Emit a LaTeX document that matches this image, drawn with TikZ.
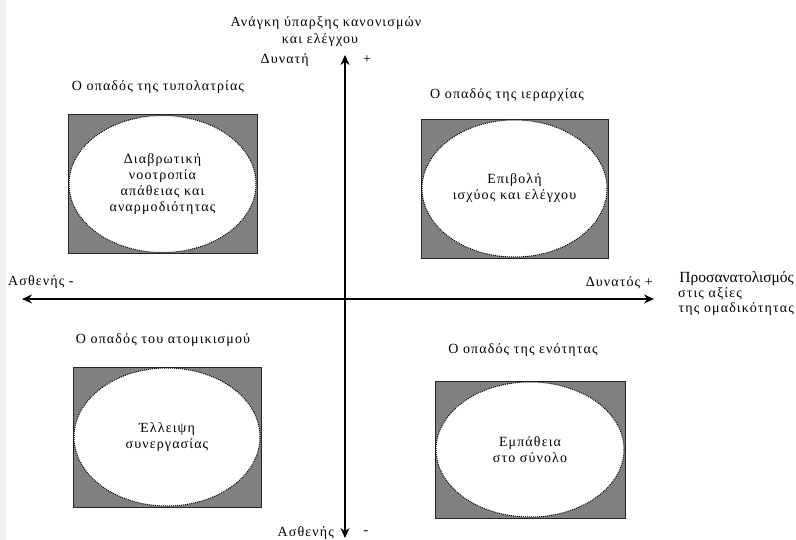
\documentclass[tikz,border=0pt]{standalone}
\usepackage{fontspec}
\setmainfont{Liberation Serif}
\newfontfamily\wideserif[LetterSpace=8]{Liberation Serif}
\usetikzlibrary{arrows.meta,shapes.geometric}
\definecolor{boxgray}{RGB}{128,128,128}
\begin{document}
\begin{tikzpicture}[x=1pt,y=-1pt,
  lbl/.style={font=\wideserif\fontsize{14}{17}\selectfont, inner sep=0pt, align=center},
  biglbl/.style={font=\fontsize{15.5}{17}\selectfont, inner sep=0pt},
  quadbox/.style={draw=black!85, line width=0.9pt, fill=boxgray, inner sep=0pt},
  oval/.style={ellipse, draw=black, densely dotted, line width=1pt, fill=white, inner sep=0pt, align=center, font=\wideserif\fontsize{14}{16}\selectfont},
  axis/.style={line width=1.3pt, -{Stealth[length=10pt,width=9pt]}}
]
\useasboundingbox (0,0) rectangle (796,540);
% faint background marks
\fill[black!6] (0,0) rectangle (6,540);
% axes
\coordinate (c) at (345,299);
\coordinate (top) at (345,55);
\coordinate (bot) at (345,538);
\coordinate (lft) at (22,299);
\coordinate (rgt) at (654,299);
\draw[axis] (c) -- (top);
\draw[axis] (c) -- (bot);
\draw[axis] (c) -- (lft);
\draw[axis] (c) -- (rgt);
% axis labels
\node[lbl] (vlab1) at (326,23) {Ανάγκη ύπαρξης κανονισμών};
\node[lbl] (vlab2) at (320,40) {και ελέγχου};
\node[lbl, anchor=east] (strong) at (309,60) {Δυνατή};
\node[lbl] (plus1) at (367,60) {+};
\node[lbl, anchor=east] (weak) at (334,533) {Ασθενής};
\node[lbl] (minus1) at (366,533) {-};
\node[lbl, anchor=west] (left) at (8,282) {Ασθενής -};
\node[lbl, anchor=east] (right) at (653,283) {Δυνατός +};
\node[biglbl, anchor=east] (hlab1) at (794,279) {Προσανατολισμός};
\node[lbl] (hlab2) at (710,294) {στις αξίες};
\node[lbl, anchor=east] (hlab3) at (794,309) {της ομαδικότητας};
% quadrant titles
\node[lbl] (t1) at (158,87) {Ο οπαδός της τυπολατρίας};
\node[lbl] (t2) at (507,95) {Ο οπαδός της ιεραρχίας};
\node[lbl] (t3) at (163,340) {Ο οπαδός του ατομικισμού};
\node[lbl] (t4) at (523,350) {Ο οπαδός της ενότητας};
% boxes
\node[quadbox, minimum width=189pt, minimum height=139pt] (b1) at (162.5,184) {};
\node[oval, minimum width=187pt, minimum height=137pt] (e1) at (b1) {Διαβρωτική\\νοοτροπία\\απάθειας και\\αναρμοδιότητας};
\node[quadbox, minimum width=187pt, minimum height=139pt] (b2) at (514.5,188.5) {};
\node[oval, minimum width=185pt, minimum height=137pt] (e2) at (b2) {Επιβολή\\ισχύος και ελέγχου};
\node[quadbox, minimum width=188pt, minimum height=140pt] (b3) at (167,437) {};
\node[oval, minimum width=186pt, minimum height=138pt] (e3) at (b3) {Έλλειψη\\συνεργασίας};
\node[quadbox, minimum width=190pt, minimum height=137pt] (b4) at (530,449.5) {};
\node[oval, minimum width=188pt, minimum height=135pt] (e4) at (b4) {Εμπάθεια\\στο σύνολο};
\end{tikzpicture}
\end{document}
